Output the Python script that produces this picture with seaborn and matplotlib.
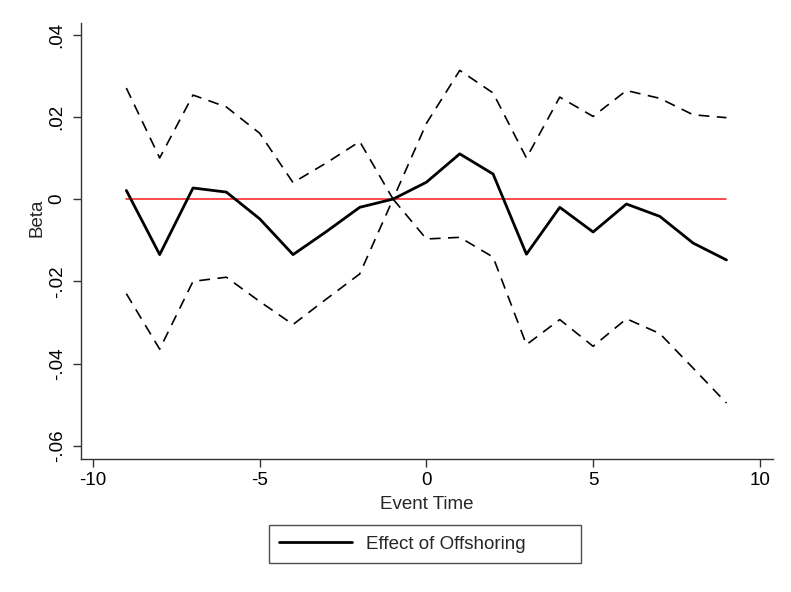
import numpy as np
import pandas as pd
import matplotlib
matplotlib.use("Agg")
import matplotlib.pyplot as plt
import seaborn as sns
from matplotlib.ticker import FuncFormatter

# Event-study estimates and 95% confidence bounds
event_time = [-9, -8, -7, -6, -5, -4, -3, -2, -1, 0, 1, 2, 3, 4, 5, 6, 7, 8, 9]
beta = [0.0021, -0.0135, 0.0027, 0.0017, -0.0048, -0.0135, -0.0079, -0.0020, 0.0,
        0.0041, 0.0110, 0.0061, -0.0134, -0.0020, -0.0080, -0.0012, -0.0042, -0.0107, -0.0148]
upper = [0.0270, 0.0100, 0.0253, 0.0224, 0.0160, 0.0040, 0.0088, 0.0140, 0.0,
         0.0184, 0.0313, 0.0258, 0.0100, 0.0248, 0.0201, 0.0264, 0.0245, 0.0205, 0.0198]
lower = [-0.0230, -0.0365, -0.0200, -0.0190, -0.0249, -0.0305, -0.0243, -0.0182, 0.0,
         -0.0097, -0.0093, -0.0141, -0.0354, -0.0293, -0.0358, -0.0291, -0.0327, -0.0411, -0.0496]
zero_line = [0.0] * len(event_time)

x_ticks = [-10, -5, 0, 5, 10]
y_ticks = [-0.06, -0.04, -0.02, 0, 0.02, 0.04]

df = pd.DataFrame({"t": event_time, "beta": beta, "upper": upper,
                   "lower": lower, "zero": zero_line})

sns.set_style("ticks")
plt.rcParams["font.family"] = ["Liberation Sans", "DejaVu Sans"]
FS = 13.5

fig = plt.figure(figsize=(7.91, 5.92), dpi=100)
ax = fig.add_axes([0.1024, 0.2247, 0.8746, 0.7363])

sns.lineplot(data=df, x="t", y="upper", ax=ax, color="black", lw=1.2,
             linestyle=(0, (6.5, 4.5)))
sns.lineplot(data=df, x="t", y="lower", ax=ax, color="black", lw=1.2,
             linestyle=(0, (6.5, 4.5)))
sns.lineplot(data=df, x="t", y="zero", ax=ax, color="#ff1a1a", lw=1.1)
sns.lineplot(data=df, x="t", y="beta", ax=ax, color="black", lw=2.0,
             label="Effect of Offshoring")

ax.set_xlim(-10.36, 10.39)
ax.set_ylim(-0.0632, 0.0428)
ax.set_xticks(x_ticks)
ax.set_yticks(y_ticks)


def fmt_y(v, pos):
    if abs(v) < 1e-12:
        return "0"
    s = f"{v:.2f}"
    return s.replace("0.", ".")


ax.yaxis.set_major_formatter(FuncFormatter(fmt_y))
ax.xaxis.set_major_formatter(FuncFormatter(lambda v, p: f"{int(round(v))}"))

for lab in ax.get_yticklabels():
    lab.set_rotation(90)
    lab.set_va("center")

ax.tick_params(axis="both", labelsize=FS, length=5.5, width=1.0,
               color="#333333", labelcolor="black")
ax.tick_params(axis="x", pad=4)
ax.tick_params(axis="y", pad=5.5)

sns.despine(ax=ax)
for side in ("left", "bottom"):
    ax.spines[side].set_color("#333333")
    ax.spines[side].set_linewidth(1.0)

ax.set_xlabel("Event Time", fontsize=FS, labelpad=5)
ax.set_ylabel("Beta", fontsize=FS)
ax.yaxis.set_label_coords(-0.052, 0.553)

# Legend box spanning a fixed strip under the axis, entry left-aligned
ax.get_legend().remove()
handles, labels = ax.get_legend_handles_labels()
leg = fig.legend(handles, labels, loc="center", mode="expand",
                 bbox_to_anchor=(269 / 791, 29 / 592, 312 / 791, 38 / 592),
                 frameon=True, fancybox=False, fontsize=FS, handlelength=3.9,
                 handletextpad=0.75, borderpad=0.55, borderaxespad=0)
leg.get_frame().set_edgecolor("#222222")
leg.get_frame().set_linewidth(1.0)

fig.savefig("out.png", dpi=100, facecolor="white")
